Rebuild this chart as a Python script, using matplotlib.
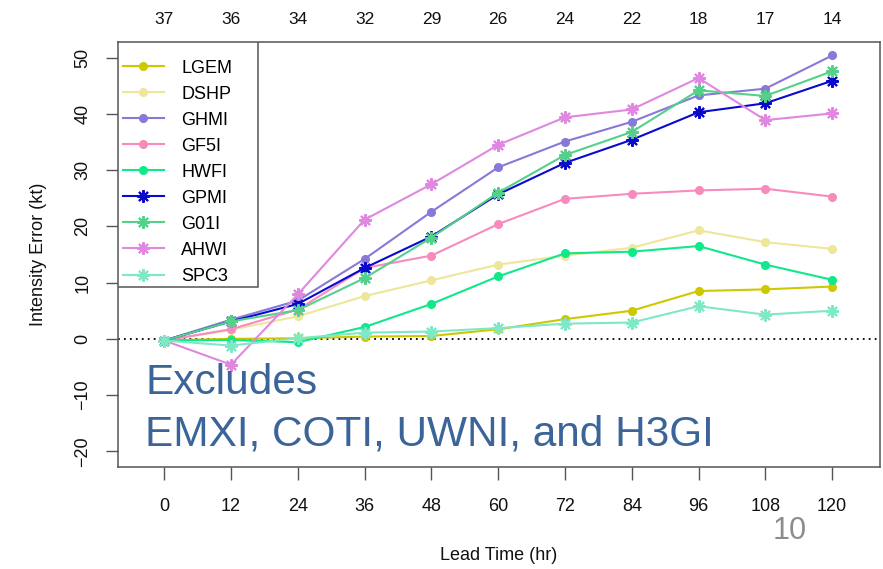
import matplotlib
matplotlib.use('Agg')
import matplotlib.pyplot as plt
from matplotlib.patches import Rectangle

plt.rcParams['font.family'] = ['Liberation Sans', 'DejaVu Sans']

# lead times and homogeneous case counts
lead = [0, 12, 24, 36, 48, 60, 72, 84, 96, 108, 120]
cases = [37, 36, 34, 32, 29, 26, 24, 22, 18, 17, 14]

# mean absolute intensity error (kt) per model
lgem = [-0.3, 0.0, 0.1, 0.4, 0.5, 1.7, 3.5, 5.0, 8.5, 8.8, 9.3]
dshp = [-0.3, 1.6, 4.0, 7.6, 10.4, 13.2, 14.8, 16.2, 19.3, 17.2, 16.0]
ghmi = [-0.3, 3.4, 6.8, 14.2, 22.6, 30.5, 35.1, 38.6, 43.3, 44.5, 50.4]
gf5i = [-0.3, 1.7, 5.2, 12.6, 14.8, 20.4, 24.9, 25.8, 26.4, 26.7, 25.3]
hwfi = [-0.3, -0.2, -0.6, 2.1, 6.2, 11.1, 15.2, 15.5, 16.5, 13.2, 10.5]
gpmi = [-0.3, 3.1, 6.2, 12.6, 18.2, 25.7, 31.3, 35.4, 40.3, 41.9, 45.9]
g01i = [-0.3, 3.1, 5.1, 10.8, 18.0, 26.0, 32.7, 36.8, 44.2, 43.2, 47.6]
ahwi = [-0.3, -4.6, 7.9, 21.2, 27.5, 34.5, 39.4, 40.8, 46.4, 38.9, 40.1]
spc3 = [-0.3, -1.2, 0.1, 1.1, 1.3, 1.9, 2.7, 2.9, 5.8, 4.3, 5.0]

models = ['LGEM', 'DSHP', 'GHMI', 'GF5I', 'HWFI', 'GPMI', 'G01I', 'AHWI', 'SPC3']
series = [lgem, dshp, ghmi, gf5i, hwfi, gpmi, g01i, ahwi, spc3]
colors = ['#cdc800', '#eee69a', '#8878d8', '#f78bbd', '#10e88a',
          '#0a0acd', '#55d08a', '#e088e0', '#7fe8c6']
star = (8, 2, 0)
markers = ['o', 'o', 'o', 'o', 'o', star, star, star, star]

fig = plt.figure(figsize=(8.83, 5.69), dpi=100)
ax = fig.add_axes([118 / 883, 1 - 467 / 569, 762 / 883, 425 / 569])

for name, vals, c, m in zip(models, series, colors, markers):
    if m == 'o':
        ax.plot(lead, vals, color=c, lw=1.5, marker='o', ms=5.5, mec=c, label=name)
    else:
        ax.plot(lead, vals, color=c, lw=1.5, marker=m, ms=9, mew=1.5, mec=c, label=name)

ax.axhline(0, color='k', lw=1.3, ls=(0, (1, 2.3)), zorder=0)

ax.set_xlim(-8.3, 128.6)
ax.set_ylim(-22.8, 52.8)
ax.set_xticks(lead)
ax.set_yticks(range(-20, 51, 10))
ax.set_yticklabels([str(v).replace('-', '\u2212') for v in range(-20, 51, 10)],
                   rotation=90, va='center')
ax.tick_params(axis='both', direction='out', length=9, width=1, color='#555555',
               labelsize=13, labelcolor='#111111')
ax.tick_params(axis='x', pad=13)
ax.tick_params(axis='y', pad=10)
for sp in ax.spines.values():
    sp.set_color('#555555')
    sp.set_linewidth(1.1)

ax.set_xlabel('Lead Time (hr)', fontsize=13, color='#111111', labelpad=23)
ax.set_ylabel('Intensity Error (kt)', fontsize=13, color='#111111', labelpad=20)

# number of cases along the top
top = ax.secondary_xaxis('top')
top.set_xticks(lead)
top.set_xticklabels([str(n) for n in cases])
top.tick_params(length=0, pad=11, labelsize=12.5, labelcolor='#111111')
top.spines['top'].set_visible(False)

# legend in the upper left corner with a square box
ax.add_patch(Rectangle((0, 1 - 245 / 425), 140 / 762, 245 / 425, transform=ax.transAxes,
                       fill=True, facecolor='white', edgecolor='#555555', lw=1.1, zorder=3))
leg = ax.legend(loc='upper left', bbox_to_anchor=(1 / 762, 1 - 14 / 425), frameon=False,
                fontsize=13, handlelength=2.3, handletextpad=0.95, labelspacing=0.5,
                borderpad=0.2, borderaxespad=0)
leg.set_zorder(4)

ax.text(-3.4, -9.8, 'Excludes', fontsize=30.5, color='#3b6599', va='baseline', zorder=5)
ax.text(-3.4, -18.9, 'EMXI, COTI, UWNI, and H3GI', fontsize=30.5, color='#3b6599',
        va='baseline', zorder=5)

fig.text(773 / 883, 1 - 539 / 569, '10', fontsize=22, color='#8c8c8c', va='baseline')

fig.savefig('out.png', dpi=100)
